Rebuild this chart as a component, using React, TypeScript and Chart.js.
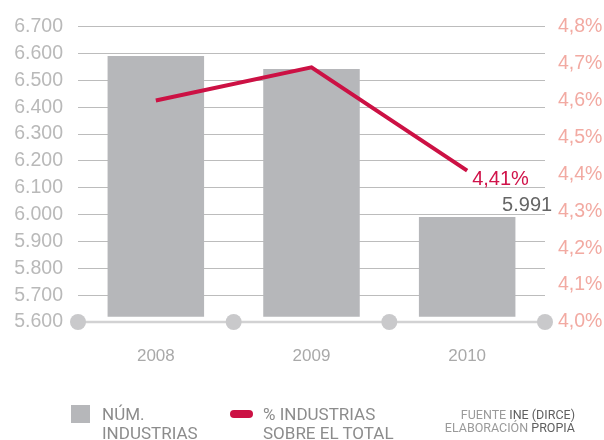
import React, { useEffect, useRef } from "react";
import { Chart, registerables } from "chart.js";

Chart.register(...registerables);

// ---- data ----
const categories = ["2008", "2009", "2010"];
const industryCounts = [6591, 6542, 5991];
const industryShare = [4.6, 4.69, 4.41];
const leftMin = 5600;
const leftMax = 6700;
const leftStep = 100;
const rightMin = 4.0;
const rightMax = 4.8;
const rightStep = 0.1;
const barBase = 5620;

const legendBarLines = ["NÚM.", "INDUSTRIAS"];
const legendLineLines = ["% INDUSTRIAS", "SOBRE EL TOTAL"];

const BAR_COLOR = "#b6b7ba";
const LINE_COLOR = "#cc1144";
const FONT = "'Liberation Sans', Arial, sans-serif";

const fmtThousands = (v: number) =>
  Math.round(v).toString().replace(/\B(?=(\d{3})+(?!\d))/g, ".");
const fmtPct = (v: number, d = 1) => v.toFixed(d).replace(".", ",") + "%";

const axisDecor = {
  id: "axisDecor",
  beforeDatasetsDraw(chart: any) {
    const { ctx, chartArea } = chart;
    const y = chart.scales.y.getPixelForValue(leftMin);
    ctx.save();
    ctx.strokeStyle = "#d2d2d3";
    ctx.lineWidth = 2.5;
    ctx.beginPath();
    ctx.moveTo(chartArea.left, y);
    ctx.lineTo(chartArea.right, y);
    ctx.stroke();
    ctx.fillStyle = "#c9c9cb";
    const n = categories.length;
    for (let i = 0; i <= n; i++) {
      const x = chartArea.left + (i * (chartArea.right - chartArea.left)) / n;
      ctx.beginPath();
      ctx.arc(x, y, 8, 0, Math.PI * 2);
      ctx.fill();
    }
    ctx.restore();
  },
};

const valueLabels = {
  id: "valueLabels",
  afterDatasetsDraw(chart: any) {
    const { ctx } = chart;
    const n = categories.length;
    const bar = chart.getDatasetMeta(0).data[n - 1];
    const pt = chart.getDatasetMeta(1).data[n - 1];
    ctx.save();
    ctx.textBaseline = "alphabetic";
    ctx.font = `20px ${FONT}`;
    ctx.fillStyle = "#666666";
    ctx.textAlign = "right";
    ctx.fillText(fmtThousands(industryCounts[n - 1]), bar.x + 85, bar.y - 6);
    ctx.fillStyle = "#d0134a";
    ctx.textAlign = "left";
    ctx.fillText(fmtPct(industryShare[n - 1], 2), pt.x + 5, pt.y + 14);
    ctx.restore();
  },
};

export default function App() {
  const ref = useRef<HTMLCanvasElement>(null);

  useEffect(() => {
    if (!ref.current) return;
    Chart.defaults.font.family = FONT;
    const chart = new Chart(ref.current, {
      type: "bar",
      data: {
        labels: categories,
        datasets: [
          {
            type: "bar",
            data: industryCounts,
            base: barBase,
            backgroundColor: BAR_COLOR,
            borderWidth: 0,
            yAxisID: "y",
            categoryPercentage: 1,
            barPercentage: 0.62,
            order: 2,
          } as any,
          {
            type: "line",
            data: industryShare,
            borderColor: LINE_COLOR,
            borderWidth: 4,
            pointRadius: 0,
            tension: 0,
            yAxisID: "y1",
            order: 1,
          } as any,
        ],
      },
      options: {
        responsive: false,
        animation: false,
        devicePixelRatio: 1,
        layout: { padding: { top: 21, left: 0, right: 0, bottom: 0 } },
        plugins: { legend: { display: false }, tooltip: { enabled: false } },
        scales: {
          x: {
            grid: { display: false, drawTicks: false },
            border: { display: false },
            ticks: { color: "#a9a9a9", font: { size: 17 }, padding: 24 },
            afterFit: (s: any) => {
              s.height = 118;
            },
          },
          y: {
            position: "left",
            min: leftMin,
            max: leftMax,
            grid: {
              drawTicks: false,
              lineWidth: 1,
              color: (c: any) =>
                c.tick && c.tick.value === leftMin ? "rgba(0,0,0,0)" : "#bcbcbc",
            },
            border: { display: false },
            ticks: {
              stepSize: leftStep,
              color: "#b9b9b9",
              font: { size: 19.5 },
              padding: 15,
              callback: (v: any) => fmtThousands(Number(v)),
            },
            afterFit: (s: any) => {
              s.width = 78;
            },
          },
          y1: {
            position: "right",
            min: rightMin,
            max: rightMax,
            grid: { drawOnChartArea: false, drawTicks: false },
            border: { display: false },
            ticks: {
              stepSize: rightStep,
              color: "#f2aaa2",
              font: { size: 19.5 },
              padding: 13,
              callback: (v: any) => fmtPct(Number(v)),
            },
            afterFit: (s: any) => {
              s.width = 59;
            },
          },
        },
      },
      plugins: [axisDecor, valueLabels],
    });
    return () => chart.destroy();
  }, []);

  const legendText: React.CSSProperties = {
    position: "absolute",
    fontFamily: "Roboto, sans-serif",
    fontSize: 17,
    lineHeight: "18.5px",
    color: "#8c8c8c",
    whiteSpace: "nowrap",
  };

  return (
    <div style={{ position: "fixed", left: 0, top: 0, width: 604, height: 440, background: "#fff" }}>
      <canvas ref={ref} width={604} height={440} style={{ width: 604, height: 440, display: "block" }} />
      <div style={{ position: "absolute", left: 71, top: 405, width: 19, height: 18, background: BAR_COLOR }} />
      <div style={{ ...legendText, left: 102, top: 405 }}>
        {legendBarLines.map((t) => (
          <div key={t}>{t}</div>
        ))}
      </div>
      <div style={{ position: "absolute", left: 230, top: 410, width: 23, height: 8, borderRadius: 4, background: LINE_COLOR }} />
      <div style={{ ...legendText, left: 263, top: 405 }}>
        {legendLineLines.map((t) => (
          <div key={t}>{t}</div>
        ))}
      </div>
      <div
        style={{
          position: "absolute",
          right: 604 - 575,
          top: 409,
          textAlign: "right",
          fontFamily: "Roboto, sans-serif",
          fontSize: 12.5,
          lineHeight: "12.5px",
          color: "#9a9a9a",
          whiteSpace: "nowrap",
        }}
      >
        <div>
          FUENTE <span style={{ color: "#5f5f5f" }}>INE (DIRCE)</span>
        </div>
        <div>
          ELABORACIÓN <span style={{ color: "#5f5f5f" }}>PROPIA</span>
        </div>
      </div>
    </div>
  );
}
